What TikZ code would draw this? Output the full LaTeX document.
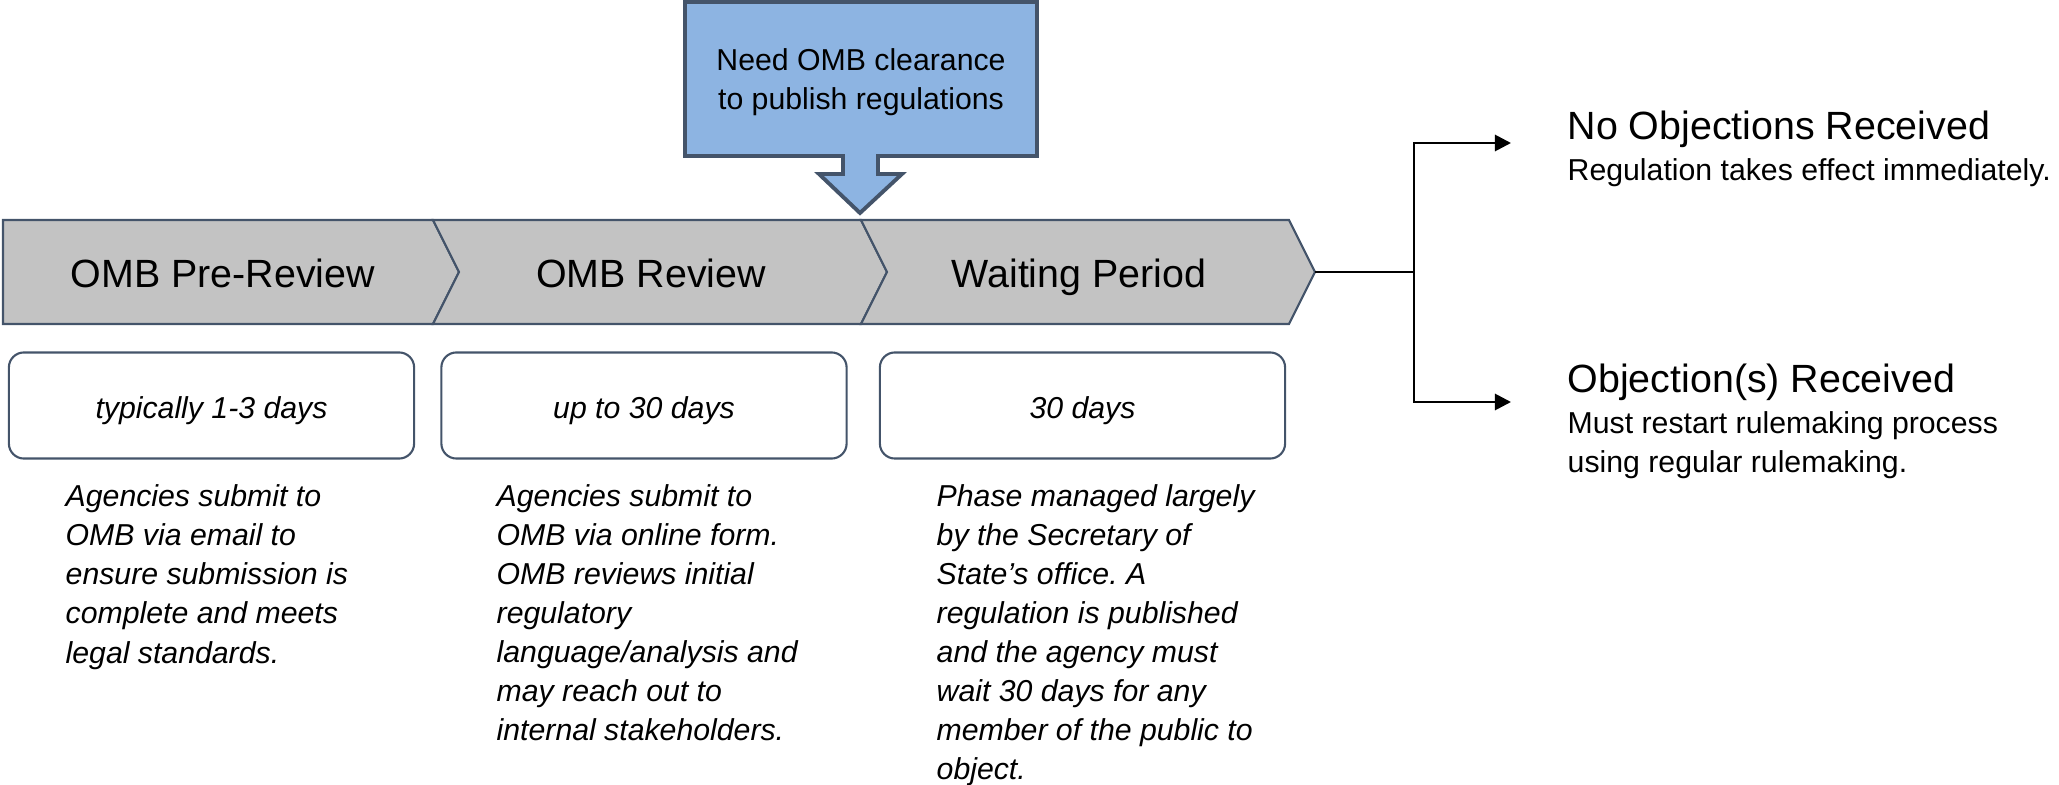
\documentclass[tikz,border=0pt]{standalone}
\usepackage{fontspec}
\setmainfont{Liberation Sans}
\frenchspacing
\usetikzlibrary{arrows.meta}
\definecolor{chevgray}{RGB}{195,195,195}
\definecolor{slate}{RGB}{68,84,106}
\definecolor{callblue}{RGB}{141,180,226}
\tikzset{
  stagebox/.style={fill=chevgray,draw=slate,line width=0.6pt,line join=miter},
  headtext/.style={inner sep=0pt,font=\fontsize{11.2}{13.4}\selectfont},
  bodytext/.style={inner sep=0pt,align=left,font=\fontsize{8.6}{11.1}\selectfont\itshape},
  timebox/.style={draw=slate,line width=0.6pt,rounded corners=0.15cm,minimum width=4.05cm,minimum height=1.06cm,
    font=\fontsize{8.6}{11.1}\selectfont\itshape,text height=0.9em,text depth=0.15em},
  callbox/.style={fill=callblue,draw=slate,line width=1.1pt,line join=miter},
  link/.style={line width=0.8pt},
  linkarrow/.style={link,-{Triangle[length=1.6mm,width=1.6mm]}}
}
\begin{document}
\begin{tikzpicture}[x=0.01cm,y=-0.01cm]
\useasboundingbox (0,0) rectangle (2059,785);
\pgfmathsetmacro{\kstep}{428}
\pgfmathsetmacro{\kpoint}{26}
\pgfmathsetmacro{\ktop}{220}
\pgfmathsetmacro{\khalf}{52}
\pgfmathsetmacro{\kline}{39}
\draw[callbox](685,2)--(1037,2)--(1037,156)--(878,156)--(878,174)--(902,174)--(860,213)--(819,174)--(843,174)--(843,156)--(685,156)--cycle;
\node[align=center,inner sep=0pt,font=\fontsize{8.6}{11.1}\selectfont,anchor=base](clearance) at (861,110){Need OMB clearance\\to publish regulations};
\draw[stagebox](3,\ktop)--(433,\ktop)--++(\kpoint,\khalf)--++(-\kpoint,\khalf)--(3,\ktop+2*\khalf)--cycle;
\foreach \i in {1,2}{\draw[stagebox](5+\i*\kstep,\ktop)--++(\kstep,0)--++(\kpoint,\khalf)--++(-\kpoint,\khalf)--++(-\kstep,0)--++(\kpoint,-\khalf)--cycle;}
\foreach \i/\a in {0/{OMB Pre-Review},1/{OMB Review},2/{Waiting Period}}{\draw(223+\i*\kstep,288)node[headtext,anchor=base](stage\i){\a};}
\foreach \i/\x/\a in {0/211.5/{typically 1-3 days},1/644/{up to 30 days},2/1082.5/{30 days}}{\node[timebox](time\i) at (\x,405.5){\a};}
\draw(65,507+4*\kline)node[bodytext,anchor=base west](desc0){Agencies submit to\\OMB via email to\\ensure submission is\\complete and meets\\legal standards.};
\draw(496,507+6*\kline)node[bodytext,anchor=base west](desc1){Agencies submit to\\OMB via online form.\\OMB reviews initial\\regulatory\\language/analysis and\\may reach out to\\internal stakeholders.};
\draw(936,507+7*\kline)node[bodytext,anchor=base west](desc2){Phase managed largely\\by the Secretary of\\State’s office. A\\regulation is published\\and the agency must\\wait 30 days for any\\member of the public to\\object.};
\coordinate (endtip) at (1315,272);
\coordinate (fork) at (1414,272);
\coordinate (yesend) at (1511,143);
\coordinate (noend) at (1511,402);
\draw[link](endtip)--(fork);
\draw[linkarrow](fork)|-(yesend);
\draw[linkarrow](fork)|-(noend);
\draw(1567,140)node[headtext,anchor=base west](noobj){No Objections Received};
\draw(1567,181)node[bodytext,font=\fontsize{8.6}{11.1}\selectfont,anchor=base west](noobjtext){Regulation takes effect immediately.};
\draw(1567,393)node[headtext,anchor=base west](obj){Objection(s) Received};
\draw(1567,473)node[bodytext,font=\fontsize{8.6}{11.1}\selectfont,anchor=base west](objtext){Must restart rulemaking process\\using regular rulemaking.};
\end{tikzpicture}
\end{document}
